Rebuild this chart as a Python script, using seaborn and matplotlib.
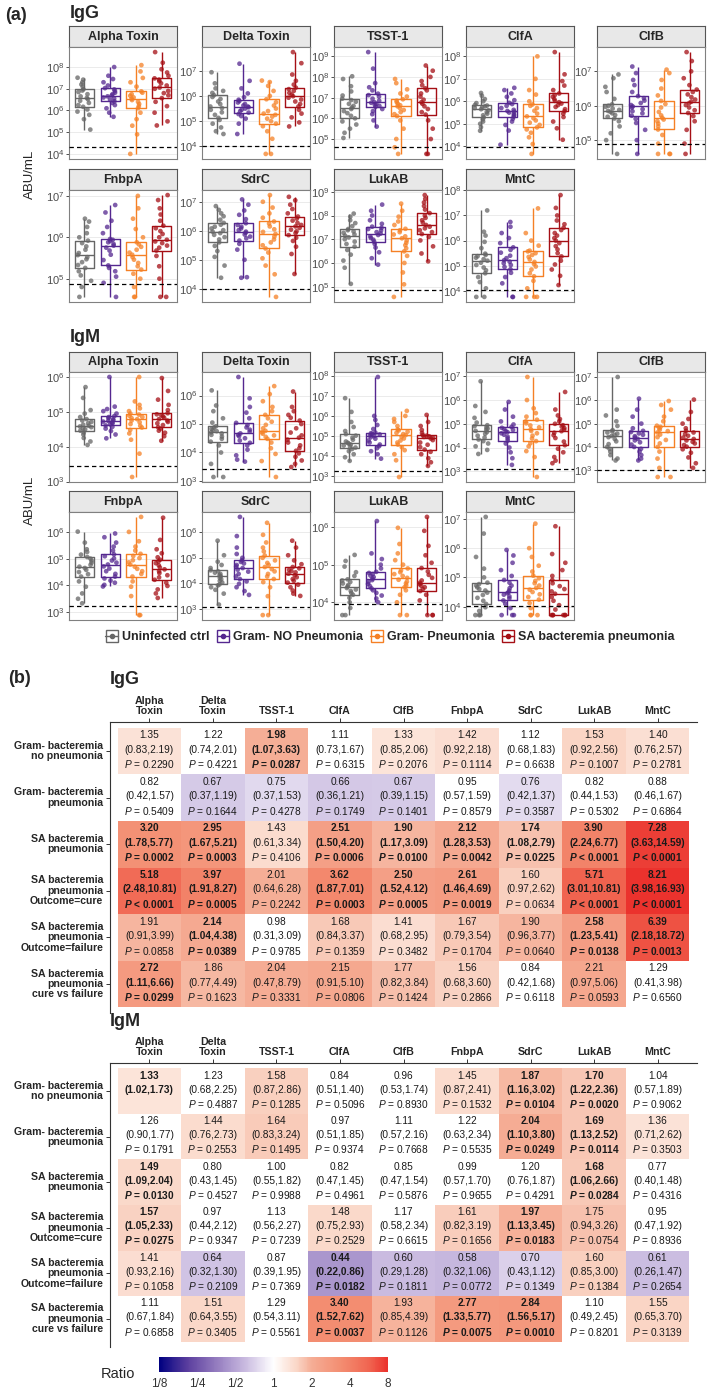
"""
Antibody levels (a) and ratio tables (b) for IgG / IgM against 9 S. aureus antigens.
Boxplot values are log10(ABU/mL) read off the figure.
"""

import numpy as np
import pandas as pd
import matplotlib
matplotlib.use('Agg')
import matplotlib.pyplot as plt
import seaborn as sns
from matplotlib.colors import LinearSegmentedColormap, Normalize
from matplotlib.lines import Line2D
from matplotlib.ticker import LogLocator, NullLocator
import matplotlib.cm as cm

sns.set_style('white')
plt.rcParams['font.family'] = ['Liberation Sans', 'DejaVu Sans']
plt.rcParams['mathtext.fontset'] = 'custom'
plt.rcParams['mathtext.rm'] = 'Liberation Sans'
plt.rcParams['mathtext.it'] = 'Liberation Sans:italic'
plt.rcParams['mathtext.bf'] = 'Liberation Sans:bold'
plt.rcParams['mathtext.bfit'] = 'Liberation Sans:italic:bold'

#####################################
## Data: panel (a)
#####################################

GROUPS = ['Uninfected ctrl', 'Gram- NO Pneumonia', 'Gram- Pneumonia', 'SA bacteremia pneumonia']
PALETTE = ['#666666', '#54278F', '#F58025', '#A50F15']
ANTIGENS = ['Alpha Toxin', 'Delta Toxin', 'TSST-1', 'ClfA', 'ClfB', 'FnbpA', 'SdrC', 'LukAB', 'MntC']

# IgG, log10(ABU/mL), one list per group
IGG_ALPHA = [
    [5.12, 5.6, 5.8, 5.95, 6.05, 6.17, 6.25, 6.35, 6.45, 6.52, 6.58, 6.65, 6.75, 6.85, 6.92, 6.98, 7.1, 7.2, 7.3, 7.42, 7.51],
    [5.71, 5.9, 6.1, 6.25, 6.35, 6.42, 6.5, 6.55, 6.6, 6.65, 6.69, 6.75, 6.82, 6.9, 6.97, 7.03, 7.15, 7.3, 7.45, 7.6, 8.0],
    [4.0, 4.9, 5.3, 5.6, 5.9, 6.11, 6.2, 6.3, 6.4, 6.48, 6.54, 6.6, 6.68, 6.75, 6.82, 6.88, 7.1, 7.3, 7.5, 7.8, 8.09],
    [5.31, 5.5, 5.9, 6.2, 6.4, 6.57, 6.7, 6.8, 6.9, 7.0, 7.06, 7.15, 7.25, 7.35, 7.42, 7.48, 7.6, 7.75, 7.9, 8.2, 8.69]]
IGG_DELTA = [
    [4.49, 4.6, 4.75, 4.9, 5.05, 5.13, 5.25, 5.35, 5.45, 5.52, 5.58, 5.68, 5.78, 5.88, 5.96, 6.03, 6.12, 6.2, 6.3, 6.5, 6.94],
    [4.49, 4.9, 5.1, 5.2, 5.28, 5.34, 5.4, 5.45, 5.5, 5.55, 5.58, 5.62, 5.68, 5.74, 5.8, 5.85, 5.95, 6.1, 6.3, 6.6, 7.28],
    [3.7, 3.7, 4.3, 4.6, 4.8, 4.9, 5.0, 5.1, 5.18, 5.25, 5.3, 5.4, 5.5, 5.62, 5.75, 5.87, 6.0, 6.2, 6.4, 6.55, 6.61],
    [4.79, 4.95, 5.15, 5.3, 5.45, 5.58, 5.68, 5.78, 5.86, 5.93, 5.99, 6.05, 6.12, 6.2, 6.27, 6.33, 6.45, 6.6, 6.85, 7.3, 7.74]]
IGG_TSST = [
    [5.05, 5.3, 5.5, 5.7, 5.85, 6.0, 6.12, 6.25, 6.35, 6.45, 6.52, 6.6, 6.7, 6.8, 6.88, 6.95, 7.1, 7.3, 7.55, 7.9, 8.03],
    [5.6, 5.9, 6.2, 6.35, 6.45, 6.55, 6.6, 6.65, 6.7, 6.75, 6.78, 6.85, 6.95, 7.05, 7.12, 7.19, 7.35, 7.5, 7.7, 8.4, 9.2],
    [4.28, 4.6, 5.0, 5.5, 5.9, 6.11, 6.2, 6.3, 6.4, 6.5, 6.58, 6.63, 6.7, 6.78, 6.85, 6.92, 7.05, 7.2, 7.4, 7.7, 7.9],
    [4.28, 4.28, 5.0, 5.5, 5.9, 6.18, 6.3, 6.45, 6.58, 6.7, 6.78, 6.9, 7.05, 7.2, 7.35, 7.45, 7.6, 7.8, 8.0, 8.3, 8.55]]
IGG_CLFA = [
    [4.69, 4.85, 5.0, 5.1, 5.2, 5.29, 5.38, 5.45, 5.52, 5.6, 5.65, 5.7, 5.74, 5.78, 5.81, 5.84, 5.92, 6.0, 6.1, 6.25, 6.37],
    [4.07, 4.7, 4.95, 5.1, 5.22, 5.32, 5.38, 5.44, 5.5, 5.54, 5.57, 5.62, 5.7, 5.8, 5.88, 5.93, 6.05, 6.2, 6.35, 6.5, 6.6],
    [3.66, 4.1, 4.4, 4.6, 4.75, 4.84, 4.95, 5.05, 5.15, 5.25, 5.33, 5.45, 5.58, 5.7, 5.8, 5.86, 6.0, 6.3, 6.5, 7.0, 8.0],
    [4.29, 4.8, 5.1, 5.3, 5.45, 5.56, 5.65, 5.75, 5.83, 5.9, 5.96, 6.02, 6.1, 6.2, 6.28, 6.35, 6.5, 6.7, 6.9, 7.2, 8.19]]
IGG_CLFB = [
    [4.6, 5.0, 5.2, 5.4, 5.55, 5.63, 5.68, 5.73, 5.78, 5.82, 5.85, 5.88, 5.92, 5.97, 6.0, 6.04, 6.2, 6.4, 6.55, 6.8, 6.91],
    [4.6, 5.0, 5.3, 5.5, 5.62, 5.71, 5.78, 5.84, 5.9, 5.95, 5.98, 6.02, 6.08, 6.15, 6.22, 6.28, 6.4, 6.6, 6.75, 6.95, 7.14],
    [4.6, 4.6, 4.6, 4.9, 5.15, 5.31, 5.4, 5.48, 5.55, 5.6, 5.65, 5.72, 5.82, 5.95, 6.05, 6.14, 6.3, 6.5, 6.75, 6.95, 7.05],
    [4.6, 4.9, 5.3, 5.55, 5.7, 5.79, 5.87, 5.95, 6.02, 6.08, 6.12, 6.18, 6.25, 6.33, 6.4, 6.47, 6.6, 6.8, 7.0, 7.3, 7.56]]
IGG_FNBPA = [
    [4.56, 4.8, 4.95, 5.08, 5.18, 5.26, 5.33, 5.4, 5.47, 5.52, 5.57, 5.62, 5.7, 5.78, 5.86, 5.92, 6.0, 6.1, 6.25, 6.38, 6.45],
    [4.56, 4.9, 5.05, 5.18, 5.26, 5.32, 5.45, 5.58, 5.68, 5.75, 5.8, 5.84, 5.88, 5.91, 5.94, 5.96, 6.1, 6.25, 6.4, 6.6, 6.78],
    [4.56, 4.56, 4.8, 5.0, 5.12, 5.22, 5.3, 5.38, 5.46, 5.52, 5.58, 5.63, 5.7, 5.77, 5.83, 5.88, 6.0, 6.2, 6.45, 6.7, 7.0],
    [4.56, 4.56, 5.0, 5.3, 5.55, 5.68, 5.75, 5.8, 5.86, 5.9, 5.94, 6.0, 6.08, 6.15, 6.22, 6.28, 6.4, 6.55, 6.7, 6.9, 7.02]]
IGG_SDRC = [
    [4.38, 4.8, 5.1, 5.3, 5.48, 5.6, 5.7, 5.78, 5.86, 5.92, 5.97, 6.02, 6.08, 6.14, 6.21, 6.27, 6.38, 6.5, 6.6, 6.72, 6.85],
    [4.38, 4.4, 5.0, 5.35, 5.55, 5.66, 5.74, 5.8, 5.87, 5.93, 5.97, 6.02, 6.08, 6.14, 6.2, 6.26, 6.4, 6.55, 6.7, 6.9, 7.08],
    [3.72, 4.5, 4.8, 5.05, 5.25, 5.39, 5.5, 5.6, 5.7, 5.8, 5.89, 5.96, 6.05, 6.15, 6.25, 6.32, 6.45, 6.6, 6.8, 7.0, 7.23],
    [4.51, 5.2, 5.45, 5.65, 5.76, 5.85, 5.92, 5.98, 6.04, 6.1, 6.15, 6.2, 6.27, 6.35, 6.42, 6.49, 6.6, 6.75, 6.9, 7.05, 7.17]]
IGG_LUKAB = [
    [5.12, 5.8, 6.1, 6.35, 6.55, 6.69, 6.8, 6.9, 7.0, 7.08, 7.15, 7.2, 7.27, 7.33, 7.38, 7.43, 7.55, 7.68, 7.8, 7.95, 8.08],
    [5.93, 6.2, 6.45, 6.65, 6.8, 6.9, 6.98, 7.05, 7.12, 7.18, 7.24, 7.3, 7.37, 7.43, 7.48, 7.53, 7.65, 7.8, 8.0, 8.2, 8.46],
    [4.57, 5.1, 5.6, 6.0, 6.3, 6.49, 6.62, 6.75, 6.85, 6.95, 7.04, 7.12, 7.2, 7.3, 7.38, 7.44, 7.6, 7.75, 7.95, 8.2, 8.5],
    [6.07, 6.4, 6.7, 6.95, 7.1, 7.22, 7.3, 7.38, 7.46, 7.53, 7.6, 7.7, 7.8, 7.9, 8.0, 8.1, 8.25, 8.4, 8.55, 8.7, 8.86]]
IGG_MNTC = [
    [3.76, 3.76, 4.1, 4.35, 4.55, 4.7, 4.82, 4.93, 5.03, 5.12, 5.2, 5.26, 5.32, 5.38, 5.43, 5.48, 5.7, 5.95, 6.2, 6.35, 7.2],
    [3.76, 3.76, 4.3, 4.55, 4.72, 4.86, 4.95, 5.03, 5.1, 5.16, 5.22, 5.3, 5.4, 5.52, 5.63, 5.73, 5.9, 6.1, 6.3, 6.55, 6.74],
    [3.76, 3.76, 3.76, 4.1, 4.4, 4.58, 4.7, 4.85, 4.97, 5.07, 5.15, 5.25, 5.35, 5.43, 5.5, 5.57, 5.6, 5.8, 6.0, 6.3, 7.28],
    [4.23, 4.6, 4.85, 5.05, 5.2, 5.37, 5.5, 5.65, 5.78, 5.9, 6.0, 6.1, 6.2, 6.3, 6.42, 6.51, 6.65, 6.8, 7.0, 7.3, 7.81]]
IGG_LOD = [4.31, 4.0, 4.6, 3.96, 4.9, 4.86, 4.0, 4.88, 4.05]

# IgM, log10(ABU/mL)
IGM_ALPHA = [
    [4.05, 4.15, 4.25, 4.35, 4.41, 4.46, 4.5, 4.53, 4.56, 4.58, 4.6, 4.63, 4.67, 4.71, 4.75, 4.79, 4.85, 4.95, 5.05, 5.4, 5.71],
    [4.24, 4.35, 4.45, 4.52, 4.57, 4.61, 4.64, 4.67, 4.69, 4.72, 4.74, 4.76, 4.79, 4.82, 4.85, 4.88, 4.95, 5.02, 5.08, 5.15, 6.0],
    [3.13, 3.8, 4.2, 4.38, 4.48, 4.55, 4.6, 4.65, 4.7, 4.75, 4.79, 4.82, 4.85, 4.89, 4.92, 4.95, 5.02, 5.1, 5.2, 5.3, 6.0],
    [4.17, 4.3, 4.4, 4.46, 4.52, 4.56, 4.62, 4.67, 4.71, 4.75, 4.79, 4.83, 4.87, 4.9, 4.93, 4.96, 5.05, 5.2, 5.35, 5.6, 5.97]]
IGM_DELTA = [
    [3.14, 3.14, 3.6, 4.0, 4.25, 4.38, 4.48, 4.56, 4.62, 4.67, 4.71, 4.75, 4.79, 4.83, 4.88, 4.92, 5.05, 5.2, 5.45, 5.65, 6.18],
    [3.68, 3.75, 3.9, 4.1, 4.25, 4.34, 4.42, 4.5, 4.57, 4.62, 4.67, 4.73, 4.8, 4.88, 4.96, 5.04, 5.2, 5.4, 5.6, 5.9, 6.65],
    [3.14, 3.7, 3.95, 4.15, 4.35, 4.48, 4.55, 4.6, 4.66, 4.71, 4.76, 4.85, 4.97, 5.08, 5.2, 5.32, 5.45, 5.6, 5.8, 6.05, 6.33],
    [3.49, 3.6, 3.72, 3.85, 3.97, 4.06, 4.15, 4.25, 4.35, 4.45, 4.52, 4.6, 4.7, 4.85, 5.0, 5.12, 5.22, 5.32, 5.45, 5.6, 6.14]]
IGM_TSST = [
    [3.77, 3.95, 4.1, 4.25, 4.36, 4.43, 4.48, 4.53, 4.58, 4.63, 4.67, 4.73, 4.82, 4.92, 5.02, 5.1, 5.25, 5.45, 5.7, 6.2, 6.88],
    [3.88, 4.1, 4.25, 4.4, 4.5, 4.58, 4.68, 4.78, 4.87, 4.94, 5.0, 5.04, 5.08, 5.11, 5.14, 5.17, 5.35, 5.55, 5.8, 6.0, 7.93],
    [2.97, 3.8, 4.1, 4.3, 4.45, 4.58, 4.68, 4.78, 4.88, 4.97, 5.05, 5.1, 5.16, 5.22, 5.28, 5.33, 5.5, 5.7, 5.85, 6.0, 6.25],
    [3.52, 3.7, 3.9, 4.1, 4.22, 4.33, 4.45, 4.57, 4.68, 4.8, 4.88, 4.92, 4.96, 4.99, 5.02, 5.05, 5.15, 5.3, 5.5, 5.7, 6.05]]
IGM_CLFA = [
    [3.73, 3.9, 4.05, 4.17, 4.27, 4.34, 4.42, 4.5, 4.58, 4.65, 4.7, 4.75, 4.8, 4.85, 4.9, 4.94, 5.05, 5.25, 5.5, 5.75, 6.79],
    [3.27, 3.55, 3.8, 4.0, 4.17, 4.29, 4.38, 4.46, 4.54, 4.6, 4.65, 4.69, 4.74, 4.78, 4.83, 4.87, 4.97, 5.1, 5.3, 5.6, 5.92],
    [2.76, 3.6, 3.85, 4.05, 4.18, 4.27, 4.38, 4.5, 4.6, 4.7, 4.77, 4.85, 4.93, 5.02, 5.1, 5.17, 5.3, 5.45, 5.65, 6.0, 6.97],
    [3.34, 3.45, 3.6, 3.8, 3.95, 4.1, 4.25, 4.4, 4.52, 4.62, 4.69, 4.75, 4.82, 4.88, 4.94, 5.0, 5.1, 5.2, 5.35, 5.6, 6.34]]
IGM_CLFB = [
    [3.42, 3.5, 3.65, 3.8, 3.92, 4.0, 4.12, 4.24, 4.34, 4.42, 4.47, 4.52, 4.57, 4.62, 4.67, 4.72, 4.9, 5.1, 5.35, 5.6, 7.0],
    [3.42, 3.5, 3.65, 3.8, 3.92, 4.0, 4.1, 4.2, 4.28, 4.35, 4.4, 4.46, 4.52, 4.58, 4.64, 4.69, 4.8, 5.0, 5.3, 5.6, 6.07],
    [2.71, 2.71, 3.1, 3.5, 3.8, 4.0, 4.15, 4.3, 4.42, 4.53, 4.62, 4.68, 4.74, 4.8, 4.86, 4.91, 5.1, 5.3, 5.6, 5.8, 5.97],
    [3.1, 3.3, 3.55, 3.75, 3.9, 4.01, 4.08, 4.15, 4.22, 4.28, 4.34, 4.4, 4.48, 4.55, 4.62, 4.69, 4.8, 5.0, 5.2, 5.5, 6.03]]
IGM_FNBPA = [
    [3.33, 3.5, 3.7, 3.95, 4.15, 4.33, 4.42, 4.5, 4.58, 4.65, 4.7, 4.77, 4.85, 4.93, 5.0, 5.06, 5.15, 5.25, 5.35, 5.6, 6.01],
    [3.96, 4.02, 4.1, 4.18, 4.26, 4.33, 4.43, 4.53, 4.63, 4.71, 4.78, 4.85, 4.93, 5.01, 5.09, 5.16, 5.3, 5.45, 5.6, 5.8, 5.94],
    [2.89, 2.89, 3.6, 3.95, 4.15, 4.33, 4.43, 4.53, 4.62, 4.7, 4.78, 4.86, 4.94, 5.02, 5.1, 5.18, 5.3, 5.45, 5.65, 6.0, 6.56],
    [3.53, 3.7, 3.85, 3.98, 4.1, 4.21, 4.3, 4.38, 4.46, 4.53, 4.6, 4.67, 4.75, 4.83, 4.9, 4.96, 5.05, 5.2, 5.35, 5.7, 6.53]]
IGM_SDRC = [
    [3.17, 3.6, 3.75, 3.85, 3.92, 3.96, 4.03, 4.1, 4.16, 4.22, 4.28, 4.32, 4.37, 4.42, 4.47, 4.51, 4.6, 4.72, 4.85, 5.1, 5.67],
    [3.55, 3.7, 3.85, 3.98, 4.08, 4.17, 4.27, 4.37, 4.46, 4.54, 4.6, 4.66, 4.72, 4.78, 4.84, 4.9, 5.0, 5.15, 5.4, 5.85, 6.6],
    [2.76, 2.76, 3.5, 3.85, 4.05, 4.17, 4.27, 4.37, 4.47, 4.56, 4.64, 4.72, 4.8, 4.9, 5.0, 5.09, 5.25, 5.4, 5.6, 5.9, 6.37],
    [3.51, 3.6, 3.72, 3.85, 3.95, 4.03, 4.1, 4.17, 4.24, 4.32, 4.38, 4.43, 4.48, 4.53, 4.59, 4.64, 4.75, 4.9, 5.1, 5.4, 5.67]]
IGM_LUKAB = [
    [3.66, 3.66, 3.85, 4.0, 4.12, 4.2, 4.25, 4.3, 4.34, 4.38, 4.42, 4.46, 4.5, 4.54, 4.58, 4.61, 4.7, 4.8, 4.95, 5.1, 5.26],
    [4.0, 4.1, 4.18, 4.25, 4.32, 4.37, 4.43, 4.49, 4.54, 4.59, 4.63, 4.67, 4.71, 4.75, 4.78, 4.81, 4.9, 5.0, 5.15, 5.3, 6.16],
    [3.66, 3.66, 4.0, 4.2, 4.32, 4.4, 4.45, 4.5, 4.55, 4.6, 4.65, 4.7, 4.75, 4.8, 4.85, 4.9, 5.0, 5.12, 5.3, 5.55, 5.98],
    [3.66, 3.66, 3.66, 4.05, 4.2, 4.3, 4.35, 4.4, 4.44, 4.48, 4.52, 4.58, 4.65, 4.73, 4.82, 4.91, 5.05, 5.25, 5.5, 5.9, 6.27]]
IGM_MNTC = [
    [3.71, 3.71, 3.71, 3.85, 3.98, 4.09, 4.2, 4.3, 4.4, 4.48, 4.55, 4.6, 4.66, 4.72, 4.77, 4.82, 5.0, 5.3, 5.7, 6.5, 7.07],
    [3.71, 3.71, 3.71, 3.95, 4.1, 4.21, 4.28, 4.35, 4.41, 4.46, 4.49, 4.55, 4.63, 4.72, 4.82, 4.91, 5.05, 5.25, 5.5, 5.75, 5.94],
    [3.71, 3.71, 3.71, 3.95, 4.12, 4.24, 4.33, 4.42, 4.5, 4.58, 4.64, 4.72, 4.8, 4.88, 4.97, 5.06, 5.2, 5.4, 5.7, 6.0, 6.84],
    [3.71, 3.71, 3.71, 3.71, 3.71, 3.71, 3.9, 4.05, 4.2, 4.33, 4.44, 4.52, 4.6, 4.7, 4.8, 4.91, 5.05, 5.25, 5.5, 5.8, 6.75]]
IGM_LOD = [3.45, 3.42, 3.25, 3.08, 3.0, 3.22, 3.08, 3.96, 4.03]

IGG_PANELS = [IGG_ALPHA, IGG_DELTA, IGG_TSST, IGG_CLFA, IGG_CLFB, IGG_FNBPA, IGG_SDRC, IGG_LUKAB, IGG_MNTC]
IGM_PANELS = [IGM_ALPHA, IGM_DELTA, IGM_TSST, IGM_CLFA, IGM_CLFB, IGM_FNBPA, IGM_SDRC, IGM_LUKAB, IGM_MNTC]

#####################################
## Data: panel (b)
#####################################

HM_COLS = ['Alpha\nToxin', 'Delta\nToxin', 'TSST-1', 'ClfA', 'ClfB', 'FnbpA', 'SdrC', 'LukAB', 'MntC']
HM_ROWS = ['Gram- bacteremia\nno pneumonia', 'Gram- bacteremia\npneumonia', 'SA bacteremia\npneumonia',
           'SA bacteremia\npneumonia\nOutcome=cure', 'SA bacteremia\npneumonia\nOutcome=failure',
           'SA bacteremia\npneumonia\ncure vs failure']

IGG_RATIO = [
    [1.35, 1.22, 1.98, 1.11, 1.33, 1.42, 1.12, 1.53, 1.40],
    [0.82, 0.67, 0.75, 0.66, 0.67, 0.95, 0.76, 0.82, 0.88],
    [3.20, 2.95, 1.43, 2.51, 1.90, 2.12, 1.74, 3.90, 7.28],
    [5.18, 3.97, 2.01, 3.62, 2.50, 2.61, 1.60, 5.71, 8.21],
    [1.91, 2.14, 0.98, 1.68, 1.41, 1.67, 1.90, 2.58, 6.39],
    [2.72, 1.86, 2.04, 2.15, 1.77, 1.56, 0.84, 2.21, 1.29]]
IGG_LO = [
    [0.83, 0.74, 1.07, 0.73, 0.85, 0.92, 0.68, 0.92, 0.76],
    [0.42, 0.37, 0.37, 0.36, 0.39, 0.57, 0.42, 0.44, 0.46],
    [1.78, 1.67, 0.61, 1.50, 1.17, 1.28, 1.08, 2.24, 3.63],
    [2.48, 1.91, 0.64, 1.87, 1.52, 1.46, 0.97, 3.01, 3.98],
    [0.91, 1.04, 0.31, 0.84, 0.68, 0.79, 0.96, 1.23, 2.18],
    [1.11, 0.77, 0.47, 0.91, 0.82, 0.68, 0.42, 0.97, 0.41]]
IGG_HI = [
    [2.19, 2.01, 3.63, 1.67, 2.06, 2.18, 1.83, 2.56, 2.57],
    [1.57, 1.19, 1.53, 1.21, 1.15, 1.59, 1.37, 1.53, 1.67],
    [5.77, 5.21, 3.34, 4.20, 3.09, 3.53, 2.79, 6.77, 14.59],
    [10.81, 8.27, 6.28, 7.01, 4.12, 4.69, 2.62, 10.81, 16.93],
    [3.99, 4.38, 3.09, 3.37, 2.95, 3.54, 3.77, 5.41, 18.72],
    [6.66, 4.49, 8.79, 5.10, 3.84, 3.60, 1.68, 5.06, 3.98]]
IGG_P = [
    ['0.2290', '0.4221', '0.0287', '0.6315', '0.2076', '0.1114', '0.6638', '0.1007', '0.2781'],
    ['0.5409', '0.1644', '0.4278', '0.1749', '0.1401', '0.8579', '0.3587', '0.5302', '0.6864'],
    ['0.0002', '0.0003', '0.4106', '0.0006', '0.0100', '0.0042', '0.0225', '<0.0001', '<0.0001'],
    ['<0.0001', '0.0005', '0.2242', '0.0003', '0.0005', '0.0019', '0.0634', '<0.0001', '<0.0001'],
    ['0.0858', '0.0389', '0.9785', '0.1359', '0.3482', '0.1704', '0.0640', '0.0138', '0.0013'],
    ['0.0299', '0.1623', '0.3331', '0.0806', '0.1424', '0.2866', '0.6118', '0.0593', '0.6560']]

IGM_RATIO = [
    [1.33, 1.23, 1.58, 0.84, 0.96, 1.45, 1.87, 1.70, 1.04],
    [1.26, 1.44, 1.64, 0.97, 1.11, 1.22, 2.04, 1.69, 1.36],
    [1.49, 0.80, 1.00, 0.82, 0.85, 0.99, 1.20, 1.68, 0.77],
    [1.57, 0.97, 1.13, 1.48, 1.17, 1.61, 1.97, 1.75, 0.95],
    [1.41, 0.64, 0.87, 0.44, 0.60, 0.58, 0.70, 1.60, 0.61],
    [1.11, 1.51, 1.29, 3.40, 1.93, 2.77, 2.84, 1.10, 1.55]]
IGM_LO = [
    [1.02, 0.68, 0.87, 0.51, 0.53, 0.87, 1.16, 1.22, 0.57],
    [0.90, 0.76, 0.83, 0.51, 0.57, 0.63, 1.10, 1.13, 0.71],
    [1.09, 0.43, 0.55, 0.47, 0.47, 0.57, 0.76, 1.06, 0.40],
    [1.05, 0.44, 0.56, 0.75, 0.58, 0.82, 1.13, 0.94, 0.47],
    [0.93, 0.32, 0.39, 0.22, 0.29, 0.32, 0.43, 0.85, 0.26],
    [0.67, 0.64, 0.54, 1.52, 0.85, 1.33, 1.56, 0.49, 0.65]]
IGM_HI = [
    [1.73, 2.25, 2.86, 1.40, 1.74, 2.41, 3.02, 2.36, 1.89],
    [1.77, 2.73, 3.24, 1.85, 2.16, 2.34, 3.80, 2.52, 2.62],
    [2.04, 1.45, 1.82, 1.45, 1.54, 1.70, 1.87, 2.66, 1.48],
    [2.33, 2.12, 2.27, 2.93, 2.34, 3.19, 3.45, 3.26, 1.92],
    [2.16, 1.30, 1.95, 0.86, 1.28, 1.06, 1.12, 3.00, 1.47],
    [1.84, 3.55, 3.11, 7.62, 4.39, 5.77, 5.17, 2.45, 3.70]]
IGM_P = [
    ['', '0.4887', '0.1285', '0.5096', '0.8930', '0.1532', '0.0104', '0.0020', '0.9062'],
    ['0.1791', '0.2553', '0.1495', '0.9374', '0.7668', '0.5535', '0.0249', '0.0114', '0.3503'],
    ['0.0130', '0.4527', '0.9988', '0.4961', '0.5876', '0.9655', '0.4291', '0.0284', '0.4316'],
    ['0.0275', '0.9347', '0.7239', '0.2529', '0.6615', '0.1656', '0.0183', '0.0754', '0.8936'],
    ['0.1058', '0.2109', '0.7369', '0.0182', '0.1811', '0.0772', '0.1349', '0.1384', '0.2654'],
    ['0.6858', '0.3405', '0.5561', '0.0037', '0.1126', '0.0075', '0.0010', '0.8201', '0.3139']]

RATIO_TICKS = ['1/8', '1/4', '1/2', '1', '2', '4', '8']

#####################################
## Figure layout helpers (pixel coords, 709 x 1393)
#####################################

W, H = 709, 1393
fig = plt.figure(figsize=(W / 100, H / 100), dpi=100)


def px_axes(x0, y0, x1, y1):
    return fig.add_axes([x0 / W, 1 - y1 / H, (x1 - x0) / W, (y1 - y0) / H])


def px_text(x, y, s, **kw):
    fig.text(x / W, 1 - y / H, s, **kw)


FACET_X = [69, 202, 334, 466, 597]
FACET_W = 108
# (strip top, panel top, panel bottom) per facet row
IGG_ROWS = [(26, 47, 159), (169, 190, 302)]
IGM_ROWS = [(352, 372, 482), (491, 512, 620)]

#####################################
## Panel (a): boxplots
#####################################


def draw_facet(k, rows, name, groups_log, lod):
    r, c = divmod(k, 5)
    top, ptop, pbot = rows[r]
    x0 = FACET_X[c]
    strip = px_axes(x0, top, x0 + FACET_W, ptop)
    strip.set_facecolor('#E8E8E8')
    strip.set_xticks([])
    strip.set_yticks([])
    for s in strip.spines.values():
        s.set_color('#555555')
        s.set_linewidth(0.8)
    strip.text(0.5, 0.48, name, ha='center', va='center', fontsize=9,
               fontweight='bold', transform=strip.transAxes)

    ax = px_axes(x0, ptop, x0 + FACET_W, pbot)
    df = pd.DataFrame([(g, 10 ** v) for g, vals in zip(GROUPS, groups_log) for v in vals],
                      columns=['group', 'abu'])
    sns.boxplot(data=df, x='group', y='abu', hue='group', order=GROUPS, hue_order=GROUPS,
                palette=PALETTE, fill=False, width=0.75, whis=(0, 100), showfliers=False,
                showcaps=False, linewidth=1.0, legend=False, log_scale=True, ax=ax)
    sns.stripplot(data=df, x='group', y='abu', hue='group', order=GROUPS, hue_order=GROUPS,
                  palette=PALETTE, jitter=0.28, size=3.4, alpha=0.75, linewidth=0,
                  legend=False, log_scale=True, zorder=3, ax=ax)
    ax.axhline(10 ** lod, color='black', linestyle=(0, (3.5, 2.5)), linewidth=0.9, zorder=4)

    allv = [v for vals in groups_log for v in vals] + [lod]
    lo, hi = min(allv), max(allv)
    pad = 0.05 * (hi - lo)
    ax.set_ylim(10 ** (lo - pad), 10 ** (hi + pad))
    ax.set_xlim(-0.6, 3.6)
    ax.yaxis.set_major_locator(LogLocator(base=10, numticks=15))
    ax.yaxis.set_minor_locator(NullLocator())
    ax.set_xticks([])
    ax.set_xlabel('')
    ax.set_ylabel('')
    ax.yaxis.grid(True, color='#EBEBEB', linewidth=0.7)
    ax.set_axisbelow(True)
    ax.tick_params(axis='y', left=True, length=2.5, width=0.6, color='#333333',
                   labelsize=8, labelcolor='#4D4D4D', pad=1)
    for s in ax.spines.values():
        s.set_color('#808080')
        s.set_linewidth(0.8)


for k, name in enumerate(ANTIGENS):
    draw_facet(k, IGG_ROWS, name, IGG_PANELS[k], IGG_LOD[k])
    draw_facet(k, IGM_ROWS, name, IGM_PANELS[k], IGM_LOD[k])

px_text(5, 15, '(a)', fontsize=13, fontweight='bold', ha='left', va='center')
px_text(70, 13, 'IgG', fontsize=13, fontweight='bold', ha='left', va='center')
px_text(70, 337, 'IgM', fontsize=13, fontweight='bold', ha='left', va='center')
px_text(30, 174, 'ABU/mL', fontsize=9.5, rotation=90, ha='center', va='center')
px_text(30, 500, 'ABU/mL', fontsize=9.5, rotation=90, ha='center', va='center')

handles = [(Line2D([], [], ls='none', marker='s', ms=9, mfc='white', mec=c, mew=1.0),
            Line2D([], [], color=c, lw=1.0),
            Line2D([], [], ls='none', marker='o', ms=3, color=c)) for c in PALETTE]
fig.legend(handles, GROUPS, loc='center', bbox_to_anchor=(390 / W, 1 - 637 / H), ncol=4,
           frameon=False, handlelength=1.0, handletextpad=0.3, columnspacing=0.6,
           prop={'weight': 'bold', 'size': 9})

#####################################
## Panel (b): ratio tables
#####################################

# navy -> white -> red on a log2 scale from 1/8 to 8
cmap = LinearSegmentedColormap.from_list('ratio', [
    (0.0, '#000080'), (0.125, '#5C3F9F'), (0.25, '#947CBF'), (0.375, '#C9BAE0'),
    (0.5, '#FFFFFF'), (0.6, '#FAD7C8'), (0.67, '#F5AC94'), (0.8, '#F38C70'),
    (0.92, '#F06450'), (1.0, '#EB322D')])


def draw_table(y_top, y_bot, ratio, lo, hi, pvals):
    ax = px_axes(110, y_top, 697, y_bot)
    ratio = np.array(ratio)
    lo = np.array(lo)
    hi = np.array(hi)
    log_r = pd.DataFrame(np.log2(ratio), index=HM_ROWS, columns=HM_COLS)
    mask = np.abs(np.log2(ratio)) < np.log2(1.3)
    sns.heatmap(log_r, cmap=cmap, vmin=-3, vmax=3, mask=mask, cbar=False,
                linewidths=0, ax=ax)
    ax.set_xlim(-0.12, 9.12)
    ax.set_ylim(6.12, -0.12)

    for i in range(6):
        for j in range(9):
            bold = lo[i, j] > 1 or hi[i, j] < 1
            fw = 'bold' if bold else 'normal'
            p_sym = r'$\mathbfit{P}$' if bold else r'$\mathit{P}$'
            lines = ['%.2f' % ratio[i, j], '(%.2f,%.2f)' % (lo[i, j], hi[i, j])]
            p = pvals[i][j]
            if p:
                lines.append(p_sym + (' < ' + p[1:] if p.startswith('<') else ' = ' + p))
            for n, s in enumerate(lines):
                ax.text(j + 0.5, i + 0.5 + (n - 1) * 0.31 - 0.03, s, ha='center', va='center',
                        fontsize=7.3, fontweight=fw, color='#1A1A1A')

    ax.xaxis.tick_top()
    ax.set_xticks(np.arange(9) + 0.5)
    ax.set_xticklabels(HM_COLS, rotation=0, fontweight='bold', fontsize=7.7,
                       linespacing=1.0, ma='center')
    ax.set_yticks(np.arange(6) + 0.5)
    ax.set_yticklabels(HM_ROWS, rotation=0, fontweight='bold', fontsize=7.6,
                       ha='right', ma='right', linespacing=1.05)
    ax.tick_params(axis='x', top=True, bottom=False, length=3, width=0.7,
                   color='#333333', pad=1.5)
    ax.tick_params(axis='y', left=True, length=3, width=0.7, color='#333333', pad=2)
    for side in ['left', 'top']:
        ax.spines[side].set_visible(True)
        ax.spines[side].set_color('#333333')
        ax.spines[side].set_linewidth(0.8)
    for side in ['right', 'bottom']:
        ax.spines[side].set_visible(False)
    ax.set_xlabel('')
    ax.set_ylabel('')


draw_table(722, 1013, IGG_RATIO, IGG_LO, IGG_HI, IGG_P)
draw_table(1063, 1347, IGM_RATIO, IGM_LO, IGM_HI, IGM_P)

px_text(8, 678, '(b)', fontsize=13, fontweight='bold', ha='left', va='center')
px_text(110, 680, 'IgG', fontsize=13, fontweight='bold', ha='left', va='center')
px_text(110, 1022, 'IgM', fontsize=13, fontweight='bold', ha='left', va='center')

# colour bar
cax = px_axes(159, 1357, 388, 1372)
sm = cm.ScalarMappable(norm=Normalize(-3, 3), cmap=cmap)
cb = fig.colorbar(sm, cax=cax, orientation='horizontal')
cb.outline.set_visible(False)
cb.set_ticks(np.arange(-3, 4))
cb.set_ticklabels(RATIO_TICKS)
cax.tick_params(axis='x', bottom=True, top=True, direction='in', color='white',
                length=3, width=0.6, labelsize=8.5, labelcolor='#333333', pad=4)
px_text(118, 1374, 'Ratio', fontsize=10.5, ha='center', va='center')

plt.savefig('out.png', dpi=100)
